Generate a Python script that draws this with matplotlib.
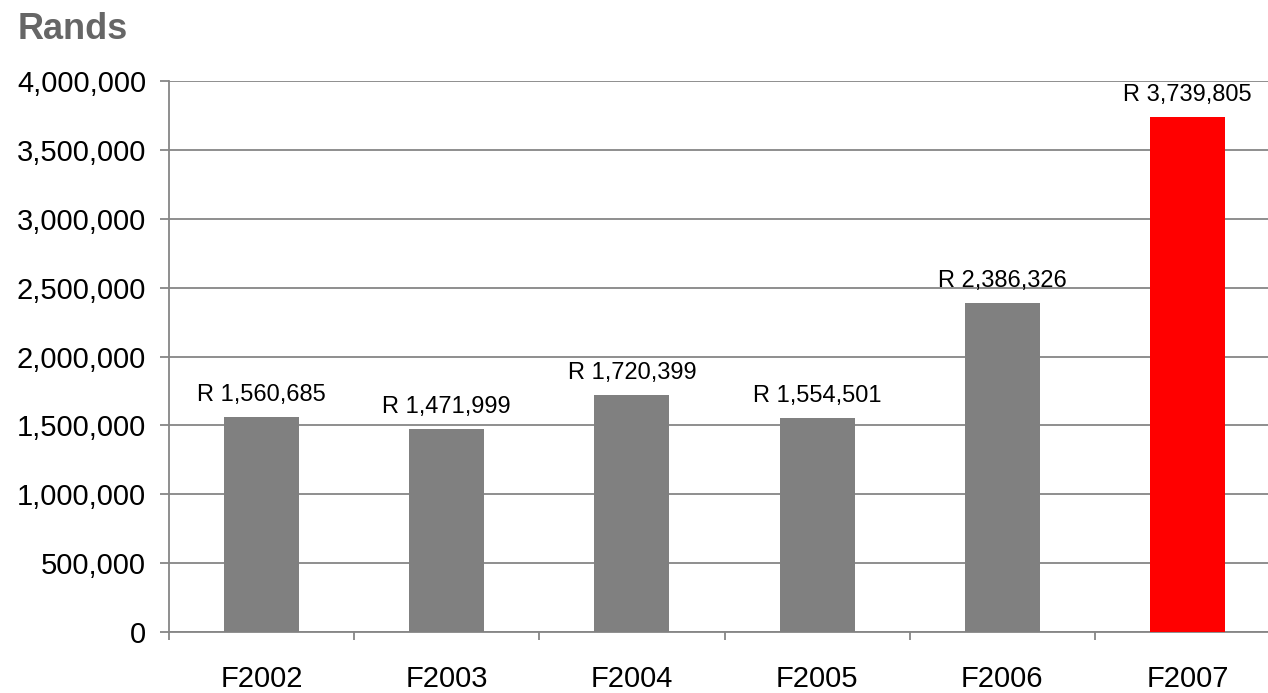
import matplotlib
matplotlib.use("Agg")
import matplotlib.pyplot as plt
from matplotlib.ticker import FuncFormatter, FixedLocator

plt.rcParams['font.family'] = ['Liberation Sans', 'DejaVu Sans']

years = ["F2002", "F2003", "F2004", "F2005", "F2006", "F2007"]
rands = [1560685, 1471999, 1720399, 1554501, 2386326, 3739805]
bar_colors = ["#808080", "#808080", "#808080", "#808080", "#808080", "#FF0000"]

fig = plt.figure(figsize=(12.68, 6.93), dpi=100)
ax = fig.add_axes([169 / 1268, 1 - 632 / 693, 1111 / 1268, 551 / 693])

x = range(len(years))
bars = ax.bar(x, rands, width=0.405, color=bar_colors, zorder=3)

grid_color = "#868686"
ax.set_ylim(0, 4000000)
ax.set_xlim(-0.5, len(years) - 0.5)
ax.set_yticks(range(0, 4000001, 500000))
ax.yaxis.set_major_formatter(FuncFormatter(lambda v, p: f"{int(v):,}"))
ax.grid(axis="y", color=grid_color, linewidth=1.3, zorder=0)
ax.set_axisbelow(True)

for s in ["top", "right"]:
    ax.spines[s].set_visible(False)
for s in ["left", "bottom"]:
    ax.spines[s].set_color(grid_color)
    ax.spines[s].set_linewidth(1.3)

ax.tick_params(axis="y", length=6.5, width=1.3, color=grid_color,
               labelsize=21, pad=10, labelcolor="black")
ax.set_xticks(list(x))
ax.set_xticklabels(years)
ax.xaxis.set_minor_locator(FixedLocator([i - 0.5 for i in range(len(years) + 1)]))
ax.tick_params(axis="x", which="major", length=0, labelsize=21, pad=24)
ax.tick_params(axis="x", which="minor", length=6, width=1.3, color=grid_color)

for rect, val in zip(bars, rands):
    ax.annotate(f"R {val:,}", (rect.get_x() + rect.get_width() / 2, val),
                xytext=(0, 8), textcoords="offset points",
                ha="center", va="bottom", fontsize=17, color="black")

fig.text(18 / 1268, 1 - 39 / 693, "Rands", fontsize=26, fontweight="bold",
         color="#666666", ha="left", va="baseline")

fig.savefig("out.png", dpi=100)
